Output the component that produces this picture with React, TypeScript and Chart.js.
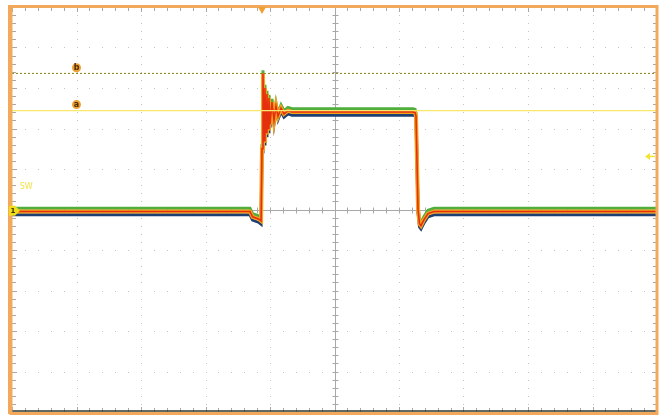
import React, { useEffect, useRef } from "react";
import { Chart, registerables } from "chart.js";

Chart.register(...registerables);

// Time axis in divisions (0..10), voltage axis in divisions (-5..5)
const traceX = [
  0, 3.69, 3.73, 3.83, 3.862, 3.876, 3.891, 3.907, 3.922, 3.938, 3.953, 3.969,
  3.984, 4.0, 4.031, 4.062, 4.093, 4.124, 4.171, 4.217, 4.279, 4.341, 6.217, 6.25,
  6.264, 6.295, 6.318, 6.341, 6.388, 6.45, 6.543, 10,
];
const traceY = [
  -0.05, -0.05, -0.18, -0.24, -0.28, 1.5, 3.36, 1.7, 3.0, 1.9, 2.85, 2.0,
  2.75, 2.1, 2.65, 2.2, 2.55, 2.3, 2.5, 2.36, 2.44, 2.41, 2.41, 2.39,
  2.3, 0.0, -0.35, -0.4, -0.25, -0.1, -0.05, -0.05,
];
const cursorA = 2.44;
const cursorB = 3.36;
const triggerX = 3.876;
const ch1Level = -0.03;
const rightMarkerLevel = 1.31;
const cursorLabels = [
  { text: "b", x: 1.0, y: 3.5 },
  { text: "a", x: 1.0, y: 2.59 },
];
const channelLabel = { text: "SW", x: 0.22, y: 0.56 };

const layers = [
  { color: "#e5300e", width: 1.6, offset: 0 },
  { color: "#f5a21e", width: 4, offset: 0.0 },
  { color: "#4fae3c", width: 3, offset: 0.08 },
  { color: "#1d3f72", width: 3, offset: -0.08 },
];

const scopePlugin = {
  id: "scope",
  beforeDatasetsDraw(chart: any) {
    const { ctx, chartArea: a, scales } = chart;
    const xs = scales.x;
    const ys = scales.y;
    ctx.save();
    ctx.fillStyle = "#ffffff";
    ctx.fillRect(a.left, a.top, a.right - a.left, a.bottom - a.top);
    // dotted graticule
    ctx.fillStyle = "#c4c4c4";
    for (let d = 1; d < 10; d++) {
      if (d === 5) continue;
      const px = Math.round(xs.getPixelForValue(d));
      for (let m = -25; m <= 25; m++) {
        const py = Math.round(ys.getPixelForValue(m / 5));
        ctx.fillRect(px, py, 1, 1);
      }
    }
    for (let d = -4; d <= 4; d++) {
      if (d === 0) continue;
      const py = Math.round(ys.getPixelForValue(d));
      for (let m = 0; m <= 50; m++) {
        const px = Math.round(xs.getPixelForValue(m / 5));
        ctx.fillRect(px, py, 1, 1);
      }
    }
    // centre axes
    const cx = Math.round(xs.getPixelForValue(5)) + 0.5;
    const cy = Math.round(ys.getPixelForValue(0)) + 0.5;
    ctx.strokeStyle = "#a8a8a8";
    ctx.lineWidth = 1;
    ctx.beginPath();
    ctx.moveTo(a.left, cy);
    ctx.lineTo(a.right, cy);
    ctx.moveTo(cx, a.top);
    ctx.lineTo(cx, a.bottom);
    for (let m = 0; m <= 50; m++) {
      const px = Math.round(xs.getPixelForValue(m / 5)) + 0.5;
      ctx.moveTo(px, cy - 3);
      ctx.lineTo(px, cy + 3);
      const len = m % 5 === 0 ? 5 : 4;
      ctx.moveTo(px, a.top);
      ctx.lineTo(px, a.top + len);
      ctx.moveTo(px, a.bottom);
      ctx.lineTo(px, a.bottom - len);
    }
    for (let m = -25; m <= 25; m++) {
      const py = Math.round(ys.getPixelForValue(m / 5)) + 0.5;
      ctx.moveTo(cx - 3, py);
      ctx.lineTo(cx + 3, py);
      const len = m % 5 === 0 ? 5 : 4;
      ctx.moveTo(a.left, py);
      ctx.lineTo(a.left + len, py);
      ctx.moveTo(a.right, py);
      ctx.lineTo(a.right - len, py);
    }
    ctx.stroke();
    ctx.restore();
  },
  afterDatasetsDraw(chart: any) {
    const { ctx, chartArea: a, scales } = chart;
    const xs = scales.x;
    const ys = scales.y;
    ctx.save();
    // bottom dark line
    ctx.strokeStyle = "#2b3a33";
    ctx.lineWidth = 1.5;
    ctx.beginPath();
    ctx.moveTo(a.left, a.bottom - 1);
    ctx.lineTo(a.right, a.bottom - 1);
    ctx.stroke();
    // frame
    ctx.strokeStyle = "#f3a95c";
    ctx.lineWidth = 3;
    ctx.strokeRect(a.left - 1, a.top - 0.5, a.right - a.left + 1, a.bottom - a.top + 2);
    ctx.fillStyle = "#f3a95c";
    ctx.fillRect(a.left - 4, a.top - 2, 3, a.bottom - a.top + 4);
    // cursor labels
    ctx.font = "bold 8px 'DejaVu Sans', sans-serif";
    ctx.textAlign = "center";
    ctx.textBaseline = "middle";
    for (const l of cursorLabels) {
      const px = xs.getPixelForValue(l.x);
      const py = ys.getPixelForValue(l.y);
      ctx.fillStyle = "#eea035";
      ctx.beginPath();
      ctx.arc(px, py, 4.5, 0, Math.PI * 2);
      ctx.fill();
      ctx.fillStyle = "#4a2a00";
      ctx.fillText(l.text, px, py + 0.5);
    }
    // channel label
    ctx.font = "8px 'DejaVu Sans', sans-serif";
    ctx.fillStyle = "#f2e24a";
    ctx.fillText(channelLabel.text, xs.getPixelForValue(channelLabel.x), ys.getPixelForValue(channelLabel.y));
    // ch1 marker
    const my = ys.getPixelForValue(ch1Level);
    ctx.fillStyle = "#f2dc1a";
    ctx.beginPath();
    ctx.moveTo(a.left - 3, my - 5);
    ctx.lineTo(a.left + 3, my - 5);
    ctx.lineTo(a.left + 8, my);
    ctx.lineTo(a.left + 3, my + 5);
    ctx.lineTo(a.left - 3, my + 5);
    ctx.closePath();
    ctx.fill();
    ctx.fillStyle = "#333300";
    ctx.font = "bold 7px 'DejaVu Sans', sans-serif";
    ctx.fillText("1", a.left + 1, my + 0.5);
    // trigger marker
    const tx = xs.getPixelForValue(triggerX);
    ctx.fillStyle = "#f0a030";
    ctx.beginPath();
    ctx.moveTo(tx - 4, a.top);
    ctx.lineTo(tx + 4, a.top);
    ctx.lineTo(tx, a.top + 7);
    ctx.closePath();
    ctx.fill();
    // right arrow marker
    const ry = ys.getPixelForValue(rightMarkerLevel);
    ctx.fillStyle = "#f2e430";
    ctx.strokeStyle = "#f2e430";
    ctx.lineWidth = 1.5;
    ctx.beginPath();
    ctx.moveTo(a.right - 12, ry);
    ctx.lineTo(a.right - 7, ry - 3.5);
    ctx.lineTo(a.right - 7, ry + 3.5);
    ctx.closePath();
    ctx.fill();
    ctx.beginPath();
    ctx.moveTo(a.right - 8, ry);
    ctx.lineTo(a.right - 2, ry);
    ctx.stroke();
    ctx.restore();
  },
};

export default function App() {
  const ref = useRef<HTMLCanvasElement>(null);
  useEffect(() => {
    if (!ref.current) return;
    const traceSets = layers.map((l) => ({
      data: traceX.map((x, i) => ({ x, y: traceY[i] + l.offset })),
      borderColor: l.color,
      borderWidth: l.width,
      pointRadius: 0,
      tension: 0,
      fill: false,
      borderJoinStyle: "miter" as const,
    }));
    const chart = new Chart(ref.current, {
      type: "line",
      data: {
        datasets: [
          {
            data: [
              { x: 0, y: cursorA },
              { x: 10, y: cursorA },
            ],
            borderColor: "#f6e86a",
            borderWidth: 1.3,
            pointRadius: 0,
          },
          {
            data: [
              { x: 0, y: cursorB },
              { x: 10, y: cursorB },
            ],
            borderColor: "#86820a",
            borderWidth: 1,
            borderDash: [2, 2],
            pointRadius: 0,
          },
          ...traceSets,
        ] as any,
      },
      options: {
        responsive: false,
        animation: false,
        devicePixelRatio: 1,
        layout: { padding: { left: 12, top: 7, right: 2, bottom: 3 } },
        scales: {
          x: { type: "linear", min: 0, max: 10, display: false },
          y: { type: "linear", min: -5, max: 5, display: false },
        },
        plugins: { legend: { display: false }, tooltip: { enabled: false } },
      },
      plugins: [scopePlugin],
    });
    return () => chart.destroy();
  }, []);
  return (
    <div style={{ position: "absolute", left: 0, top: 0, width: 659, height: 415, background: "#fff" }}>
      <canvas ref={ref} width={659} height={415} />
    </div>
  );
}
